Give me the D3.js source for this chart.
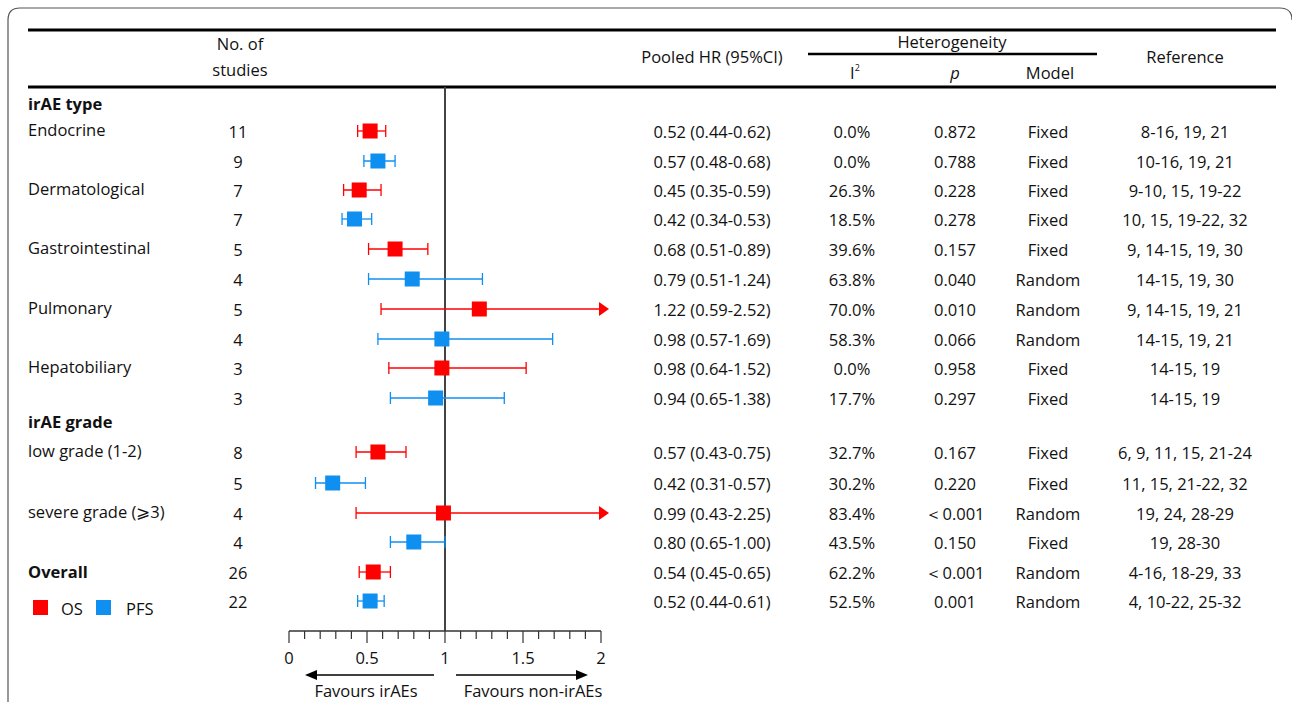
<!DOCTYPE html>
<html><head><meta charset="utf-8">
<script src="https://cdn.jsdelivr.net/npm/d3@7"></script>
<style>body{margin:0;background:#fff}text{font-family:"Open Sans",sans-serif;font-size:16.5px;fill:#111}</style>
</head><body><svg width="1292" height="702"></svg>
<script>
// rows: label, studies, series, plotted hr/lo/hi, printed HR text, i2, p, model, ref
var labels = ["Endocrine","","Dermatological","","Gastrointestinal","","Pulmonary","","Hepatobiliary","",
              "low grade (1-2)","","severe grade (\u2a7e3)","","",""];
var studies = [11,9,7,7,5,4,5,4,3,3,8,5,4,4,26,22];
var series = ["OS","PFS","OS","PFS","OS","PFS","OS","PFS","OS","PFS","OS","PFS","OS","PFS","OS","PFS"];
var hr = [0.52,0.57,0.45,0.42,0.68,0.79,1.22,0.98,0.98,0.94,0.57,0.28,0.99,0.80,0.54,0.52];
var lo = [0.44,0.48,0.35,0.34,0.51,0.51,0.59,0.57,0.64,0.65,0.43,0.17,0.43,0.65,0.45,0.44];
var hi = [0.62,0.68,0.59,0.53,0.89,1.24,2.52,1.69,1.52,1.38,0.75,0.49,2.25,1.00,0.65,0.61];
var hrText = ["0.52 (0.44-0.62)","0.57 (0.48-0.68)","0.45 (0.35-0.59)","0.42 (0.34-0.53)","0.68 (0.51-0.89)",
              "0.79 (0.51-1.24)","1.22 (0.59-2.52)","0.98 (0.57-1.69)","0.98 (0.64-1.52)","0.94 (0.65-1.38)",
              "0.57 (0.43-0.75)","0.42 (0.31-0.57)","0.99 (0.43-2.25)","0.80 (0.65-1.00)","0.54 (0.45-0.65)","0.52 (0.44-0.61)"];
var i2 = ["0.0%","0.0%","26.3%","18.5%","39.6%","63.8%","70.0%","58.3%","0.0%","17.7%","32.7%","30.2%","83.4%","43.5%","62.2%","52.5%"];
var pval = ["0.872","0.788","0.228","0.278","0.157","0.040","0.010","0.066","0.958","0.297","0.167","0.220","\uff1c0.001","0.150","\uff1c0.001","0.001"];
var model = ["Fixed","Fixed","Fixed","Fixed","Fixed","Random","Random","Random","Fixed","Fixed","Fixed","Fixed","Random","Fixed","Random","Random"];
var refs = ["8-16, 19, 21","10-16, 19, 21","9-10, 15, 19-22","10, 15, 19-22, 32","9, 14-15, 19, 30","14-15, 19, 30",
            "9, 14-15, 19, 21","14-15, 19, 21","14-15, 19","14-15, 19","6, 9, 11, 15, 21-24","11, 15, 21-22, 32",
            "19, 24, 28-29","19, 28-30","4-16, 18-29, 33","4, 10-22, 25-32"];
var rowY = [131,161,190,219,249,279,309,339,368,398,452,483,513,542,572,601];
var colors = {OS:"#ff0000", PFS:"#0f8ff0"};
var tickVals = [0,0.5,1,1.5,2];

var svg = d3.select("svg");
var x = d3.scaleLinear().domain([0,2]).range([289,601]);

// frame
svg.append("path").attr("d","M8,702 L8,20 Q8,8 20,8 L1280,8 Q1292,8 1292,20").attr("fill","none").attr("stroke","#555").attr("stroke-width",1.2);
svg.append("line").attr("x1",28).attr("x2",1276).attr("y1",30).attr("y2",30).attr("stroke","#000").attr("stroke-width",3);
svg.append("line").attr("x1",28).attr("x2",1276).attr("y1",87).attr("y2",87).attr("stroke","#000").attr("stroke-width",3);
svg.append("line").attr("x1",808).attr("x2",1097).attr("y1",54).attr("y2",54).attr("stroke","#000").attr("stroke-width",2.5);

function txt(t,xx,yy,anchor,extra){var e=svg.append("text").attr("x",xx).attr("y",yy).attr("text-anchor",anchor||"middle").text(t);if(extra)extra(e);return e;}
txt("No. of",240,50);txt("studies",240,76);
txt("Pooled HR (95%CI)",712,63);
txt("Heterogeneity",952,48);
var ti=txt("I",855,79);ti.append("tspan").attr("dy",-8).attr("font-size","9px").text("2");
txt("p",955,79,"middle",function(e){e.style("font-style","italic");});
txt("Model",1050,79);
txt("Reference",1185,63);

txt("irAE type",28,110,"start",function(e){e.style("font-weight","bold");});
txt("irAE grade",28,428,"start",function(e){e.style("font-weight","bold");});
txt("Overall",28,578,"start",function(e){e.style("font-weight","bold");});

rowY.forEach(function(y,i){
  if(labels[i]) txt(labels[i],28,y+5,"start");
  txt(studies[i],238,y+7);
  txt(hrText[i],712,y+7);
  txt(i2[i],852,y+7);txt(pval[i],955,y+7);txt(model[i],1048,y+7);txt(refs[i],1185,y+7);
});

// vertical reference line
svg.append("line").attr("x1",x(1)).attr("x2",x(1)).attr("y1",87).attr("y2",631).attr("stroke","#444").attr("stroke-width",2);

// CI marks
var g = svg.append("g");
rowY.forEach(function(y,i){
  var c = colors[series[i]], h = Math.min(hi[i],2);
  g.append("line").attr("x1",x(lo[i])).attr("x2",x(h)).attr("y1",y).attr("y2",y).attr("stroke",c).attr("stroke-width",1.3);
  g.append("line").attr("x1",x(lo[i])).attr("x2",x(lo[i])).attr("y1",y-6).attr("y2",y+6).attr("stroke",c).attr("stroke-width",1.3);
  if(hi[i]>2){
    g.append("path").attr("d","M"+(x(2)+8)+","+y+" l-10,-7 l0,14 z").attr("fill",c);
  } else {
    g.append("line").attr("x1",x(h)).attr("x2",x(h)).attr("y1",y-6).attr("y2",y+6).attr("stroke",c).attr("stroke-width",1.3);
  }
  g.append("rect").attr("x",x(hr[i])-7.5).attr("y",y-7.5).attr("width",15).attr("height",15).attr("fill",c);
});

// axis
var ax = svg.append("g").attr("transform","translate(0,631)");
ax.append("line").attr("x1",x(0)).attr("x2",x(2)).attr("stroke","#333").attr("stroke-width",1.3);
d3.range(0,21).forEach(function(k){
  var v=k/10, major = k%5===0;
  ax.append("line").attr("x1",x(v)).attr("x2",x(v)).attr("y1",0).attr("y2",major?12:8).attr("stroke","#333").attr("stroke-width",1.2);
});
tickVals.forEach(function(v){txt(String(v),x(v),664);});
svg.append("line").attr("x1",434).attr("x2",315).attr("y1",675).attr("y2",675).attr("stroke","#000").attr("stroke-width",1.3);
svg.append("path").attr("d","M305,675 l12,-5 l0,10 z").attr("fill","#000");
svg.append("line").attr("x1",456).attr("x2",578).attr("y1",675).attr("y2",675).attr("stroke","#000").attr("stroke-width",1.3);
svg.append("path").attr("d","M588,675 l-12,-5 l0,10 z").attr("fill","#000");
txt("Favours irAEs",366,697);
txt("Favours non-irAEs",533,697);

// legend
svg.append("rect").attr("x",33).attr("y",600).attr("width",15).attr("height",15).attr("fill",colors.OS);
txt("OS",61,615,"start");
svg.append("rect").attr("x",96).attr("y",600).attr("width",15).attr("height",15).attr("fill",colors.PFS);
txt("PFS",126,615,"start");
</script></body></html>
